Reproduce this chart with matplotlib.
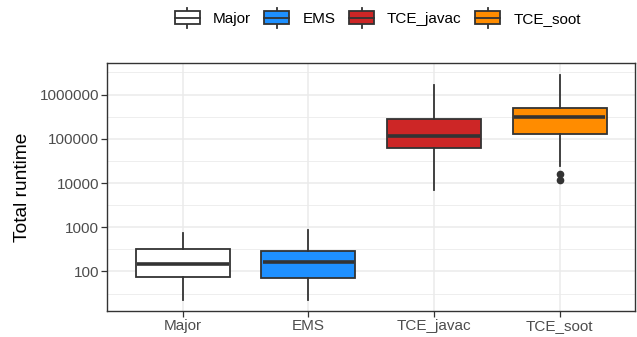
import numpy as np
import matplotlib
matplotlib.use("Agg")
import matplotlib.pyplot as plt
from matplotlib.legend_handler import HandlerBase
from matplotlib.patches import Rectangle, Patch
from matplotlib.lines import Line2D
from matplotlib.ticker import FixedLocator, FixedFormatter, NullFormatter

plt.rcParams["font.family"] = ["Liberation Sans", "DejaVu Sans"]

# Daten
groups = ["Major", "EMS", "TCE_javac", "TCE_soot"]
colors = ["#FFFFFF", "#1E90FF", "#CD2626", "#FF8C00"]
q1 = [74, 72, 61000, 131000]
med = [144, 162, 116000, 313000]
q3 = [315, 288, 282000, 490000]
whislo = [23, 23, 7100, 24700]
whishi = [750, 870, 1680000, 2840000]
fliers = [[], [], [], [16200, 11800]]

EDGE = "#333333"
GRID = "#EBEBEB"

fig = plt.figure(figsize=(6.37, 3.37), dpi=100)
ax = fig.add_axes([0.1685, 0.0772, 0.9969 - 0.1685, 0.8122 - 0.0772])

stats = []
for i, g in enumerate(groups):
    stats.append(dict(label=g, q1=q1[i], med=med[i], q3=q3[i],
                      whislo=whislo[i], whishi=whishi[i], fliers=fliers[i]))

pos = np.arange(1, len(groups) + 1)
bp = ax.bxp(stats, positions=pos, widths=0.75, patch_artist=True, showcaps=False,
            boxprops=dict(edgecolor=EDGE, linewidth=1.3),
            medianprops=dict(color=EDGE, linewidth=2.6, solid_capstyle="butt"),
            whiskerprops=dict(color=EDGE, linewidth=1.3),
            flierprops=dict(marker="o", markerfacecolor=EDGE, markeredgecolor=EDGE,
                            markersize=4.5))
for box, c in zip(bp["boxes"], colors):
    box.set_facecolor(c)
for ln in bp["medians"]:
    x = ln.get_xdata()
    ln.set_xdata([x[0] + 0.01, x[1] - 0.01])

ax.set_yscale("log")
lo = np.log10(min(min(whislo), min(min(f) for f in fliers if f)))
hi = np.log10(max(whishi))
pad = (hi - lo) * 0.05
ax.set_ylim(10 ** (lo - pad), 10 ** (hi + pad))
ax.set_xlim(0.4, len(groups) + 0.6)

major = [100, 1000, 10000, 100000, 1000000]
ax.yaxis.set_major_locator(FixedLocator(major))
ax.yaxis.set_major_formatter(FixedFormatter([str(v) for v in major]))
ax.yaxis.set_minor_locator(FixedLocator([10 ** (k + 0.5) for k in range(1, 7)]))
ax.yaxis.set_minor_formatter(NullFormatter())
ax.set_xticks(pos)
ax.set_xticklabels(groups)

ax.set_axisbelow(True)
ax.grid(True, which="major", color=GRID, linewidth=1.1)
ax.grid(True, which="minor", axis="y", color=GRID, linewidth=0.6)
ax.tick_params(axis="both", which="major", length=4, width=0.9, color=EDGE,
               labelsize=11, labelcolor="#4D4D4D", pad=2)
ax.tick_params(axis="y", which="minor", length=0)
for s in ax.spines.values():
    s.set_color(EDGE)
    s.set_linewidth(1.0)

ax.set_ylabel("Total runtime", fontsize=13.8, labelpad=6)


class BoxHandler(HandlerBase):
    def create_artists(self, legend, orig_handle, xdescent, ydescent, width, height,
                       fontsize, trans):
        x0, y0 = -xdescent, -ydescent
        cx = x0 + width / 2
        b0, b1 = y0 + height * 0.17, y0 + height * 0.83
        rect = Rectangle((x0, b0), width, b1 - b0, facecolor=orig_handle.get_facecolor(),
                         edgecolor=EDGE, linewidth=1.3, transform=trans)
        mid = Line2D([x0, x0 + width], [(b0 + b1) / 2] * 2, color=EDGE, linewidth=1.3,
                     transform=trans)
        w1 = Line2D([cx, cx], [y0, b0], color=EDGE, linewidth=1.3, transform=trans)
        w2 = Line2D([cx, cx], [b1, y0 + height], color=EDGE, linewidth=1.3, transform=trans)
        return [w1, w2, rect, mid]


handles = [Patch(facecolor=c, edgecolor=EDGE) for c in colors]
fig.legend(handles, groups, loc="center", bbox_to_anchor=(0.593, 0.947), ncol=4,
           frameon=False, fontsize=11, handler_map={Patch: BoxHandler()},
           handlelength=1.63, handleheight=1.57, handletextpad=0.85,
           columnspacing=0.9, borderpad=0)

fig.savefig("out.png", dpi=100)
